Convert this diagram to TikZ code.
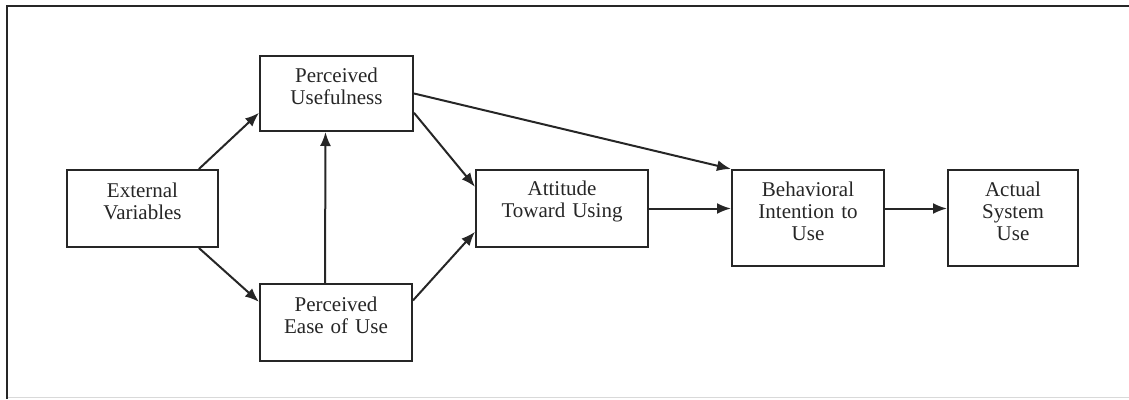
\documentclass[tikz,border=0pt]{standalone}
\usepackage{fontspec}
\setmainfont{Liberation Serif}
\usepackage{tikz}
\usetikzlibrary{arrows.meta}
\definecolor{inkgray}{HTML}{262626}
\tikzset{
x=1pt, y=-1pt, % pixel units, y grows downward
>={Latex[length=14pt,width=11pt]}, % filled arrow heads
link/.style={->, line width=2pt, draw=inkgray},
box/.style={rectangle, draw=inkgray, line width=2pt, align=center, text=inkgray,
  text width=124pt, inner xsep=2pt,
  font=\fontsize{21}{22}\selectfont,
  execute at end node={\par\vspace*{14pt}}}, % lifts the text a little, as in the original
}
\begin{document}
\begin{tikzpicture}
    \useasboundingbox (0,0) rectangle (1129,399);
    % frame
    \draw[line width=1pt, draw=gray!30] (7,397.5) -- (1129,397.5);
    \draw[line width=2.5pt, draw=inkgray] (7,399) -- (7,6) -- (1129,6);

    \node[box, minimum width=151pt, minimum height=77pt] (ev) at (142.5,208.5) {External\\Variables};
    \node[box, minimum width=153pt, minimum height=75pt] (pu) at (336.5,93.5) {Perceived\\Usefulness};
    \node[box, minimum width=152pt, minimum height=77pt] (peou) at (336,322.5) {Perceived\\Ease of Use};
    \node[box, minimum width=172pt, minimum height=77pt] (at) at (562,208.5) {Attitude\\Toward Using};
    \node[box, minimum width=152pt, minimum height=96pt] (bi) at (808,218) {Behavioral\\Intention to\\Use};
    \node[box, minimum width=130pt, minimum height=96pt] (asu) at (1013,218) {Actual\\System\\Use};

    \draw[link] (ev.35) -- (pu.194);
    \draw[link] (ev.-35) -- (peou.165);
    \draw[link] ([xshift=-11pt]peou.north) -- ([xshift=-11pt]pu.south);
    \draw[link] (pu.-14) -- (at.166);
    \draw[link] (peou.16) -- (at.195);
    \draw[link] (pu.east) -- (bi.north west);
    \draw[link] (at.east) -- (at.east -| bi.west);
    \draw[link] (at.east -| bi.east) -- (at.east -| asu.west);
\end{tikzpicture}
\end{document}
